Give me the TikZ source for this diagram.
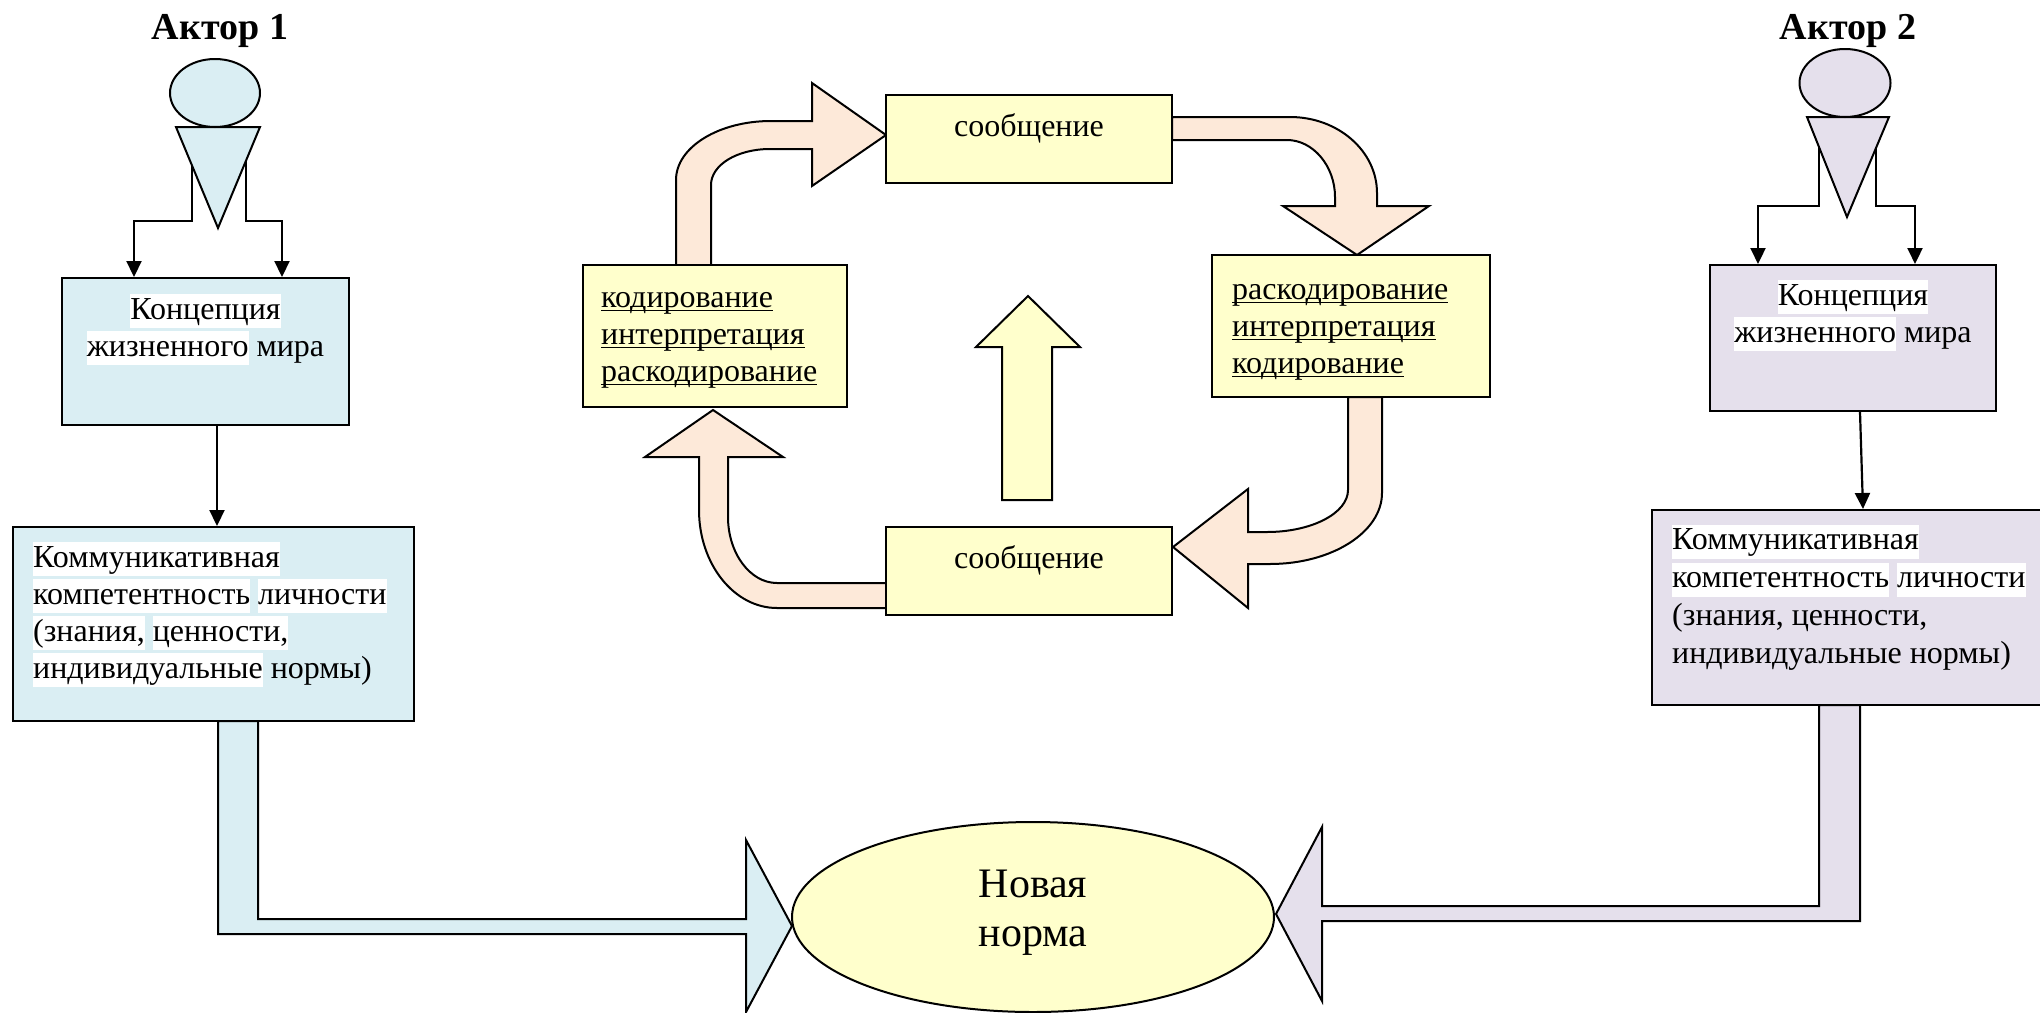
\documentclass[tikz,border=0pt]{standalone}
\usepackage{fontspec}
\setmainfont{Liberation Serif}
\usetikzlibrary{arrows.meta,shapes.geometric,positioning}
\definecolor{actorblue}{HTML}{DAEEF3}
\definecolor{actorlilac}{HTML}{E5E0EC}
\definecolor{msgyellow}{HTML}{FFFFCC}
\definecolor{flowpeach}{HTML}{FDE9D9}
\newcommand{\hl}[1]{{\setlength{\fboxsep}{0pt}\colorbox{white}{\rule[-9pt]{0pt}{34pt}#1}}}
\newcommand{\ul}[1]{\setbox0\hbox{#1}\rlap{\rule[-4pt]{\wd0}{1.6pt}}\box0}
\tikzset{box node/.style={rectangle,draw,line width=2pt,inner sep=0pt},
         head node/.style={ellipse,draw,line width=2pt,inner sep=0pt},
         box text/.style={inner sep=0pt,font=\fontsize{32}{37}\selectfont},
         cycle text/.style={inner sep=0pt,align=left,font=\fontsize{32}{37}\selectfont},
         actor label/.style={inner sep=0pt,font=\fontsize{38}{42}\selectfont\bfseries},
         norm text/.style={inner sep=0pt,align=center,font=\fontsize{42}{49}\selectfont},
         conn/.style={line width=2.2pt,-{Triangle[length=16pt,width=15pt]}},
         block arrow/.style={draw,line width=2pt,line join=miter}
}

\begin{document}
\begin{tikzpicture}[x=1pt,y=-1pt]
\useasboundingbox (0,0) rectangle (2040,1012);
\clip (0,0) rectangle (2040,1012);

% actor 1
\node[actor label,anchor=base] (0) at (220,39) {Актор 1};
\node[box node,fill=actorblue,minimum width=287pt,minimum height=147pt] (3) at (205.5,351.5) {};
\node[box node,fill=actorblue,minimum width=401pt,minimum height=194pt] (4) at (213.5,624) {};
\node[box text,align=center,below=16pt of 3.north] {\strut\hl{Концепция}\\\hl{жизненного} мира};
\node[box text,align=left,below right=15pt and 21pt of 4.north west] {\strut\hl{Коммуникативная}\\\hl{компетентность} \hl{личности}\\\hl{(знания,} \hl{ценности,}\\\hl{индивидуальные} нормы)};
\coordinate (t1l) at (192,150);
\coordinate (t1r) at (246,150);
\draw[conn] (t1l) -- ++(0,71) -| ([xshift=-71.5pt]3.north);
\draw[conn] (t1r) -- ++(0,71) -| ([xshift=76.5pt]3.north);
\draw[conn] ([xshift=11.5pt]3.south) -- ([xshift=3.5pt]4.north);
\draw[line width=2pt,fill=actorblue] (176,127) -- (260,127) -- (218,228) -- cycle;
\node[head node,fill=actorblue,minimum width=90pt,minimum height=68pt] (1) at (215,93) {};

% actor 2
\node[actor label,anchor=base] (5) at (1848,39) {Актор 2};
\node[box node,fill=actorlilac,minimum width=286pt,minimum height=146pt] (7) at (1853,338) {};
\node[box node,fill=actorlilac,minimum width=393pt,minimum height=195pt] (8) at (1848.5,607.5) {};
\node[box text,align=center,below=15pt of 7.north] {\strut\hl{Концепция}\\\hl{жизненного} мира};
\node[box text,align=left,below right=14pt and 21pt of 8.north west,font=\fontsize{32}{38}\selectfont] {\strut\hl{Коммуникативная}\\\hl{компетентность} \hl{личности}\\(знания, ценности,\\индивидуальные нормы)};
\coordinate (t2l) at (1819,140);
\coordinate (t2r) at (1876,140);
\draw[conn] (t2l) -- ++(0,66) -| ([xshift=-95pt]7.north);
\draw[conn] (t2r) -- ++(0,66) -| ([xshift=62pt]7.north);
\draw[conn] ([xshift=7pt]7.south) -- ([xshift=14.5pt]8.north);
\draw[line width=2pt,fill=actorlilac] (1807,117) -- (1889,117) -- (1847,217) -- cycle;
\node[head node,fill=actorlilac,minimum width=91pt,minimum height=68pt] (6) at (1845,83) {};

% cycle arrows
\draw[block arrow,fill=flowpeach] (676,265) -- (676,180) .. controls (676,147) and (719,121) .. (771,121)
  -- (812,121) -- (812,83) -- (886,135) -- (812,186) -- (812,149) -- (770,149)
  .. controls (737,149) and (711,165) .. (711,185) -- (711,265) -- cycle;
\draw[block arrow,fill=flowpeach] (1172,117) -- (1290,117) .. controls (1338,117) and (1377,151) .. (1377,193)
  -- (1377,206) -- (1429,206) -- (1357,255) -- (1283,206) -- (1335,206) -- (1335,197)
  .. controls (1335,166) and (1313,140) .. (1287,140) -- (1172,140) -- cycle;
\draw[block arrow,fill=flowpeach] (1382,397) -- (1382,493) .. controls (1382,532) and (1332,564) .. (1270,564)
  -- (1248,564) -- (1248,608) -- (1173,547) -- (1248,489) -- (1248,532) -- (1267,532)
  .. controls (1312,532) and (1348,513) .. (1348,490) -- (1348,397) -- cycle;
\draw[block arrow,fill=flowpeach] (886,608) -- (777,608) .. controls (734,608) and (699,564) .. (699,510)
  -- (699,457) -- (645,457) -- (713,410) -- (783,457) -- (728,457) -- (728,517)
  .. controls (728,553) and (750,583) .. (777,583) -- (886,583) -- cycle;
\draw[block arrow,fill=msgyellow] (1002,500) -- (1002,347) -- (976,347) -- (1028,296) -- (1080,347) -- (1052,347) -- (1052,500) -- cycle;

% cycle boxes
\node[box node,fill=msgyellow,minimum width=286pt,minimum height=88pt] (9) at (1029,139) {};
\node[box node,fill=msgyellow,minimum width=286pt,minimum height=88pt] (10) at (1029,571) {};
\node[box node,fill=msgyellow,minimum width=264pt,minimum height=142pt] (11) at (715,336) {};
\node[box node,fill=msgyellow,minimum width=278pt,minimum height=142pt] (12) at (1351,326) {};
\node[box text,below=16pt of 9.north] {\strut сообщение};
\node[box text,below=16pt of 10.north] {\strut сообщение};
\node[cycle text,below right=17pt and 19pt of 11.north west] {\strut\ul{кодирование}\\\ul{интерпретация}\\\ul{раскодирование}};
\node[cycle text,below right=19pt and 21pt of 12.north west] {\strut\ul{раскодирование}\\\ul{интерпретация}\\\ul{кодирование}};

% new norm
\draw[block arrow,fill=actorblue] (218,721) -- (218,934) -- (746,934) -- (746,1012) -- (792,926) -- (746,840) -- (746,919) -- (258,919) -- (258,721) -- cycle;
\draw[block arrow,fill=actorlilac] (1860,705) -- (1860,921) -- (1322,921) -- (1322,1001) -- (1276,914) -- (1322,827) -- (1322,906) -- (1819,906) -- (1819,705) -- cycle;
\node[head node,fill=msgyellow,minimum width=482pt,minimum height=190pt] (13) at (1033,917) {};
\node[norm text] at ([yshift=4pt]13.center) {Новая\\норма};
\end{tikzpicture}
\end{document}
